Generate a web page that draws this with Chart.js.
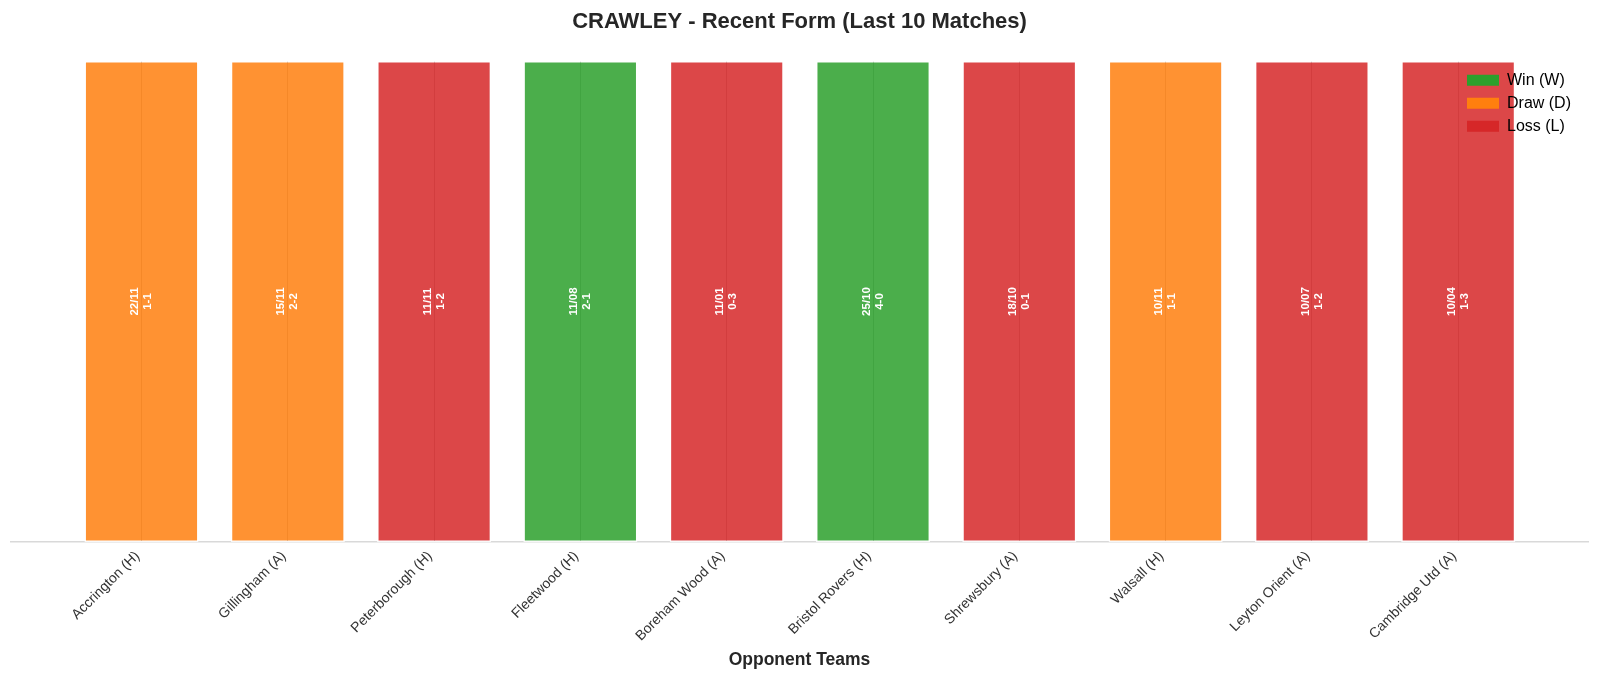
<!DOCTYPE html>
<html>
<head>
<meta charset="utf-8">
<script src="https://cdn.jsdelivr.net/npm/chart.js@4"></script>
<style>
  html, body { margin: 0; padding: 0; background: #fff; }
  #wrap { width: 1600px; height: 679px; position: relative; }
</style>
</head>
<body>
<div id="wrap"><canvas id="formChart"></canvas></div>
<script>
const opponents = ["Accrington (H)", "Gillingham (A)", "Peterborough (H)", "Fleetwood (H)", "Boreham Wood (A)",
  "Bristol Rovers (H)", "Shrewsbury (A)", "Walsall (H)", "Leyton Orient (A)", "Cambridge Utd (A)"];
const matchDates = ["22/11", "15/11", "11/11", "11/08", "11/01", "25/10", "18/10", "10/11", "10/07", "10/04"];
const scores = ["1-1", "2-2", "1-2", "2-1", "0-3", "4-0", "0-1", "1-1", "1-2", "1-3"];
const results = ["D", "D", "L", "W", "L", "W", "L", "D", "L", "L"];
const barHeights = [1, 1, 1, 1, 1, 1, 1, 1, 1, 1];

const RESULT_TYPES = [
  { code: "W", label: "Win (W)", color: "#2ca02c", fill: "rgba(44,160,44,0.85)" },
  { code: "D", label: "Draw (D)", color: "#ff7f0e", fill: "rgba(255,127,14,0.85)" },
  { code: "L", label: "Loss (L)", color: "#d62728", fill: "rgba(214,39,40,0.85)" }
];
const FONT = "'Liberation Sans', Arial, Helvetica, sans-serif";

// one dataset per result type, so the legend gets W/D/L
const datasets = RESULT_TYPES.map(t => ({
  label: t.label,
  data: results.map((r, i) => ({ x: i, y: barHeights[i], r })).filter(p => p.r === t.code),
  backgroundColor: t.fill,
  borderColor: "rgba(255,255,255,0.8)",
  borderWidth: 1.5,
  borderSkipped: false,
  grouped: false,
  categoryPercentage: 1,
  barPercentage: 0.78
}));

// date + score written sideways in every bar
const barText = {
  id: "barText",
  afterDatasetsDraw(chart) {
    const ctx = chart.ctx;
    chart.data.datasets.forEach((ds, di) => {
      const meta = chart.getDatasetMeta(di);
      meta.data.forEach((bar, j) => {
        const i = ds.data[j].x;
        ctx.save();
        ctx.translate(bar.x, (bar.y + bar.base) / 2);
        ctx.rotate(-Math.PI / 2);
        ctx.fillStyle = "#fff";
        ctx.font = "bold 11.5px " + FONT;
        ctx.textAlign = "center";
        ctx.textBaseline = "middle";
        ctx.fillText(matchDates[i], 0, -6.5);
        ctx.fillText(scores[i], 0, 6.5);
        ctx.restore();
      });
    });
  }
};

// legend sits top-right inside the plot, on top of the bars
const legendPlace = {
  id: "legendPlace",
  beforeLayout(chart) {
    const lg = chart.legend;
    if (lg) lg._layers = () => [{ z: 10, draw: (area) => lg.draw(area) }];
  },
  afterLayout(chart) {
    const lg = chart.legend;
    if (!lg) return;
    const w = lg.width, h = lg.height;
    lg.left = chart.chartArea.right - 128;
    lg.right = lg.left + w;
    lg.top = chart.chartArea.top + 4.3;
    lg.bottom = lg.top + h;
  }
};

new Chart(document.getElementById("formChart"), {
  type: "bar",
  data: { datasets },
  plugins: [barText, legendPlace],
  options: {
    responsive: true,
    maintainAspectRatio: false,
    animation: false,
    layout: { padding: { left: 11, right: 12, top: 0, bottom: 4 } },
    plugins: {
      title: {
        display: true,
        text: "CRAWLEY - Recent Form (Last 10 Matches)",
        color: "#262626",
        font: { family: FONT, size: 22, weight: "bold" },
        padding: { top: 8.8, bottom: 25.8 }
      },
      legend: {
        position: "chartArea",
        align: "start",
        labels: {
          boxWidth: 32,
          boxHeight: 11,
          padding: 7,
          color: "#333",
          font: { family: FONT, size: 16 },
          generateLabels: () => RESULT_TYPES.map(t => ({
            text: t.label, fillStyle: t.color, strokeStyle: t.color, lineWidth: 0, hidden: false
          }))
        }
      },
      tooltip: { enabled: false }
    },
    scales: {
      x: {
        type: "linear",
        offset: false,
        min: -0.892,
        max: 9.887,
        afterBuildTicks: s => { s.ticks = opponents.map((_, i) => ({ value: i })); },
        afterFit: s => { s.height = 133; },
        ticks: {
          autoSkip: false,
          minRotation: 45,
          maxRotation: 45,
          padding: 6,
          labelOffset: -4,
          color: "#333",
          font: { family: FONT, size: 14 },
          callback: v => opponents[v]
        },
        grid: { offset: false, color: "#b8b8b8", lineWidth: 1, drawTicks: false },
        border: { display: true, color: "#d9d9d9", width: 1.5 },
        title: {
          display: true,
          text: "Opponent Teams",
          color: "#262626",
          font: { family: FONT, size: 17.5, weight: "bold" },
          padding: { top: 4, bottom: 4 }
        }
      },
      y: {
        display: false,
        min: 0,
        max: 1
      }
    }
  }
});
</script>
</body>
</html>
